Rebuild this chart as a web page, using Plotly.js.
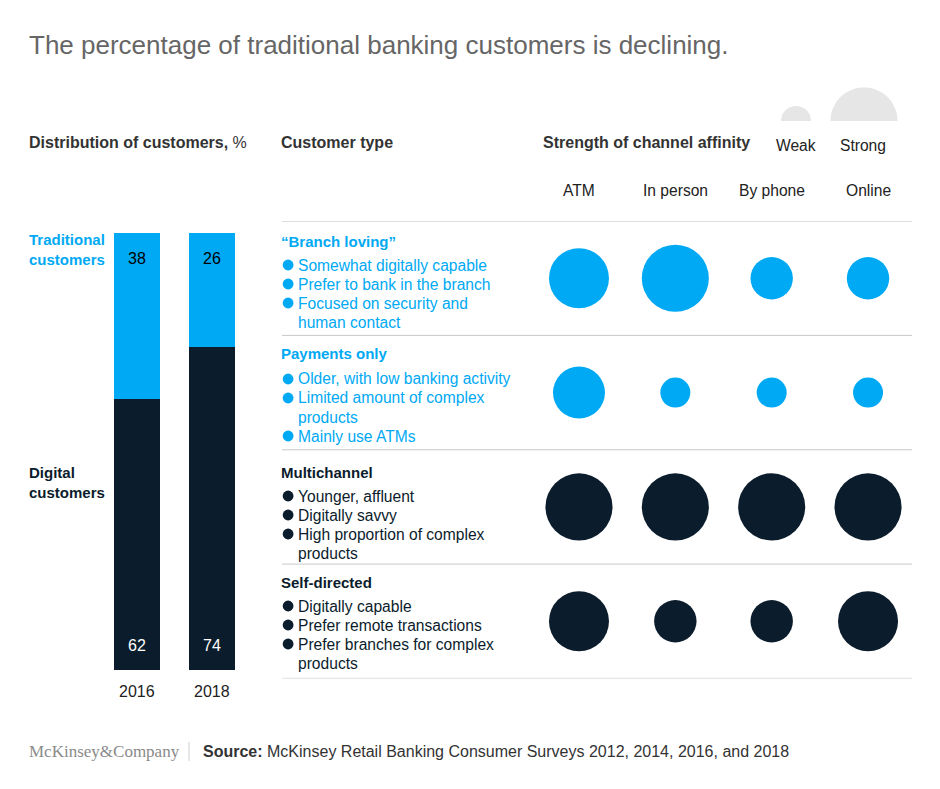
<!DOCTYPE html>
<html><head><meta charset="utf-8">
<script src="https://cdn.plot.ly/plotly-3.0.1.min.js"></script>
<style>html,body{margin:0;padding:0;background:#fff}#chart{width:940px;height:789px}</style>
</head><body><div id="chart"></div>
<script>
// ---------------- DATA ----------------
const years = ['2016', '2018'];
const traditionalPct = [38, 26];
const digitalPct = [62, 74];

const channels = ['ATM', 'In person', 'By phone', 'Online'];
const segments = ['“Branch loving”', 'Payments only', 'Multichannel', 'Self-directed'];

// strength of channel affinity, 1 = weak ... 5 = strong
const affinityBranchLoving = [4, 5, 2, 2];
const affinityPaymentsOnly = [3, 1, 1, 1];
const affinityMultichannel = [5, 5, 5, 5];
const affinitySelfDirected = [4, 2, 2, 4];

const bulletsBranchLoving = [['Somewhat digitally capable'], ['Prefer to bank in the branch'], ['Focused on security and', 'human contact']];
const bulletsPaymentsOnly = [['Older, with low banking activity'], ['Limited amount of complex', 'products'], ['Mainly use ATMs']];
const bulletsMultichannel = [['Younger, affluent'], ['Digitally savvy'], ['High proportion of complex', 'products']];
const bulletsSelfDirected = [['Digitally capable'], ['Prefer remote transactions'], ['Prefer branches for complex', 'products']];

const titleText = 'The percentage of traditional banking customers is declining.';
const sourceText = '<b>Source:</b> McKinsey Retail Banking Consumer Surveys 2012, 2014, 2016, and 2018';

// ---------------- STYLE / LAYOUT ----------------
const W = 940, H = 789;
const BLUE = '#00A9F4', NAVY = '#0B1C2C', GRID = '#c8c8c8';
const FONT = 'Liberation Sans, Arial, Helvetica, sans-serif';
const BODY = 15.6;
const px = x => x / W;
const py = y => 1 - y / H;
const SIZEREF = 1 / 450; // area mode: diameter = 30*sqrt(score)

const affinity = [affinityBranchLoving, affinityPaymentsOnly, affinityMultichannel, affinitySelfDirected];
const bullets = [bulletsBranchLoving, bulletsPaymentsOnly, bulletsMultichannel, bulletsSelfDirected];
const segColors = [BLUE, BLUE, NAVY, NAVY];

const traces = [];
traces.push({
  type: 'bar', x: years, y: digitalPct, xaxis: 'x', yaxis: 'y', width: 0.613,
  marker: {color: NAVY, line: {width: 0}}, hoverinfo: 'skip', showlegend: false
});
traces.push({
  type: 'bar', x: years, y: traditionalPct, xaxis: 'x', yaxis: 'y', width: 0.613,
  marker: {color: BLUE, line: {width: 0}}, hoverinfo: 'skip', showlegend: false
});
segments.forEach((s, i) => {
  traces.push({
    type: 'scatter', mode: 'markers', xaxis: 'x2', yaxis: 'y2',
    x: channels, y: channels.map(() => s),
    marker: {size: affinity[i], sizemode: 'area', sizeref: SIZEREF, color: segColors[i], opacity: 1, line: {width: 0}},
    hoverinfo: 'skip', showlegend: false, cliponaxis: false
  });
});

const annotations = [];
const shapes = [];
function ann(text, x, y, opts) {
  annotations.push(Object.assign({
    text: text, x: px(x), y: py(y), xref: 'paper', yref: 'paper',
    xanchor: 'left', yanchor: 'middle', showarrow: false, align: 'left',
    font: {family: FONT, size: BODY, color: '#222'}
  }, opts || {}));
}
const HEAD = {family: FONT, size: 16, color: '#333'};

// title
ann(titleText, 27, 45, {font: {family: FONT, size: 26, color: '#666'}});
// headers
ann('<b>Distribution of customers,</b> %', 27, 143, {font: HEAD});
ann('<b>Customer type</b>', 279, 143, {font: HEAD});
ann('<b>Strength of channel affinity</b>', 541, 143, {font: HEAD});
ann('Weak', 796, 145, {xanchor: 'center'});
ann('Strong', 863, 145, {xanchor: 'center'});
// left labels
ann('<b>Traditional<br>customers</b>', 27, 249.5, {font: {family: FONT, size: 15, color: BLUE}});
ann('<b>Digital<br>customers</b>', 27, 482.5, {font: {family: FONT, size: 15, color: NAVY}});

// channel headers through x2 scale
channels.forEach((c, j) => {
  annotations.push({text: c, x: j, xref: 'x2', y: py(190), yref: 'paper', xanchor: 'center', yanchor: 'middle',
    showarrow: false, font: {family: FONT, size: BODY, color: '#222'}});
});
// year labels and values through x / y scales
years.forEach((yr, i) => {
  annotations.push({text: yr, x: i, xref: 'x', y: py(691), yref: 'paper', xanchor: 'center', yanchor: 'middle',
    showarrow: false, font: {family: FONT, size: 16, color: '#222'}});
  annotations.push({text: String(traditionalPct[i]), x: i, xref: 'x', y: digitalPct[i] + traditionalPct[i], yref: 'y',
    yshift: -25, xanchor: 'center', yanchor: 'middle', showarrow: false, font: {family: FONT, size: 16, color: '#000'}});
  annotations.push({text: String(digitalPct[i]), x: i, xref: 'x', y: 0, yref: 'y',
    yshift: 25, xanchor: 'center', yanchor: 'middle', showarrow: false, font: {family: FONT, size: 16, color: '#fff'}});
});

// segment text blocks
const segTitleY = [241, 353, 472, 582];
const bulletStartY = [265, 379, 496, 606];
segments.forEach((s, i) => {
  ann('<b>' + s + '</b>', 279, segTitleY[i], {font: {family: FONT, size: 15, color: segColors[i]}});
  let y = bulletStartY[i];
  bullets[i].forEach(lines => {
    shapes.push({type: 'circle', xref: 'paper', yref: 'paper', x0: px(282.7), x1: px(293.5),
      y0: py(y + 5.4), y1: py(y - 5.4), fillcolor: segColors[i], line: {width: 0}});
    lines.forEach(l => {
      ann(l, 296, y, {font: {family: FONT, size: BODY, color: segColors[i]}});
      y += 19;
    });
  });
});

// separators at category boundaries of y2
for (let k = -0.5; k <= 3.5; k += 1) {
  shapes.push({type: 'line', xref: 'paper', yref: 'y2', x0: px(282), x1: px(912), y0: k, y1: k,
    line: {color: GRID, width: 1}});
}

// size legend half circles (weak = 1, strong = 5)
function halfCircle(cx, base, score) {
  const r = Math.sqrt(score / (2 * SIZEREF));
  let d = '';
  for (let k = 0; k <= 48; k++) {
    const a = Math.PI * k / 48;
    const x = cx + r * Math.cos(a), y = base - r * Math.sin(a);
    d += (k === 0 ? 'M' : 'L') + px(x).toFixed(5) + ',' + py(y).toFixed(5);
  }
  d += 'Z';
  shapes.push({type: 'path', xref: 'paper', yref: 'paper', path: d, fillcolor: '#e6e6e6', line: {width: 0}});
}
halfCircle(796, 121, 1);
halfCircle(864, 121, 5);

// footer
ann('McKinsey&amp;Company', 27, 751, {font: {family: 'Liberation Serif, DejaVu Serif, serif', size: 17, color: '#8a8a8a'}});
shapes.push({type: 'line', xref: 'paper', yref: 'paper', x0: px(189), x1: px(189), y0: py(742), y1: py(761), line: {color: '#cfcfcf', width: 1}});
ann(sourceText, 201, 751, {font: {family: FONT, size: 16, color: '#333'}});

const layout = {
  width: W, height: H, margin: {l: 0, r: 0, t: 0, b: 0, pad: 0},
  paper_bgcolor: '#fff', plot_bgcolor: 'rgba(0,0,0,0)',
  barmode: 'stack', showlegend: false, hovermode: false,
  xaxis: {domain: [px(99.5), px(249.5)], type: 'category', categoryorder: 'array', categoryarray: years,
    range: [-0.5, 1.5], showticklabels: false, showgrid: false, zeroline: false, showline: false, ticks: ''},
  yaxis: {domain: [py(670), py(233)], range: [0, 100], showticklabels: false, showgrid: false, zeroline: false, showline: false, ticks: ''},
  xaxis2: {domain: [px(530.8), px(916.2)], anchor: 'y2', type: 'category', categoryorder: 'array', categoryarray: channels,
    range: [-0.5, 3.5], showticklabels: false, showgrid: false, zeroline: false, showline: false, ticks: ''},
  yaxis2: {domain: [py(678.4), py(221.1)], anchor: 'x2', type: 'category', categoryorder: 'array', categoryarray: segments,
    range: [3.5, -0.5], showticklabels: false, showgrid: false, zeroline: false, showline: false, ticks: ''},
  annotations: annotations, shapes: shapes,
  font: {family: FONT}
};

Plotly.newPlot('chart', traces, layout, {staticPlot: true, displayModeBar: false});
</script></body></html>
